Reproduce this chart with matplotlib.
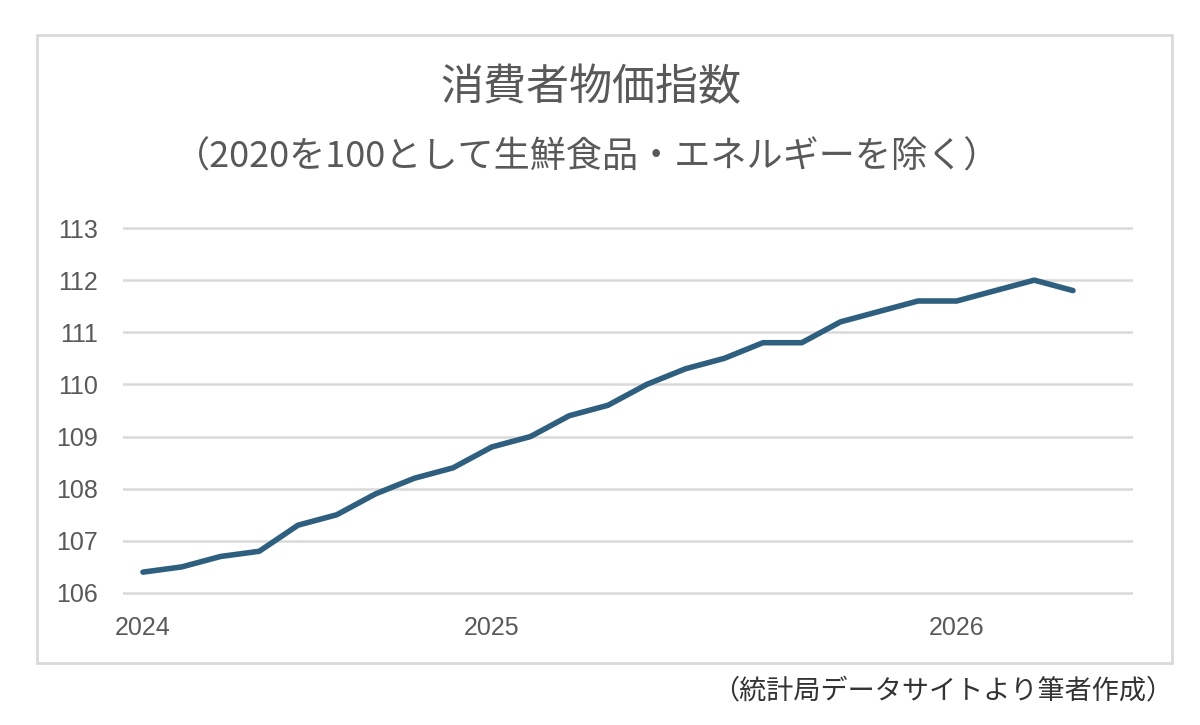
import matplotlib
matplotlib.use("Agg")
import matplotlib.pyplot as plt
from matplotlib.patches import Rectangle

plt.rcParams['font.family'] = ['Noto Sans CJK JP', 'DejaVu Sans']

# monthly core CPI (2020 = 100), Apr 2024 - Apr 2026
months = ["2024-04", "2024-05", "2024-06", "2024-07", "2024-08", "2024-09",
          "2024-10", "2024-11", "2024-12", "2025-01", "2025-02", "2025-03",
          "2025-04", "2025-05", "2025-06", "2025-07", "2025-08", "2025-09",
          "2025-10", "2025-11", "2025-12", "2026-01", "2026-02", "2026-03",
          "2026-04"]
cpi = [106.4, 106.5, 106.7, 106.8, 107.3, 107.5, 107.9, 108.2, 108.4,
       108.8, 109.0, 109.4, 109.6, 110.0, 110.3, 110.5, 110.8, 110.8,
       111.2, 111.4, 111.6, 111.6, 111.8, 112.0, 111.8]
year_ticks = ["2024-04", "2025-01", "2026-01"]
year_labels = ["2024", "2025", "2026"]
y_ticks = [106, 107, 108, 109, 110, 111, 112, 113]

text_gray = "#595959"
line_color = "#2f5f7e"

fig = plt.figure(figsize=(12, 7.25), dpi=100)
fig.patch.set_facecolor("white")

# outer chart frame
fig.patches.append(Rectangle((0.0308, 0.0855), 0.946, 0.866, transform=fig.transFigure,
                             fill=False, edgecolor="#d9d9d9", linewidth=2))

ax = fig.add_axes([0.1025, 0.1785, 0.8417, 0.5106])
x = list(range(len(months)))
ax.plot(x, cpi, color=line_color, linewidth=4, solid_capstyle="round",
        solid_joinstyle="round", zorder=3)

ax.set_xlim(-0.516, 25.55)
ax.set_ylim(105.95, 113.05)
ax.set_yticks(y_ticks)
ax.set_yticklabels([str(v) for v in y_ticks])
ax.set_xticks([months.index(m) for m in year_ticks])
ax.set_xticklabels(year_labels)
for lab in ax.get_xticklabels() + ax.get_yticklabels():
    lab.set_fontfamily("Liberation Sans")

ax.grid(axis="y", color="#d9d9d9", linewidth=1.8)
ax.set_axisbelow(True)
for s in ax.spines.values():
    s.set_visible(False)
ax.tick_params(axis="both", length=0, labelsize=18, labelcolor=text_gray)
ax.tick_params(axis="y", pad=18)
ax.tick_params(axis="x", pad=15)

fig.text(0.492, 0.879, "消費者物価指数", ha="center", va="center",
         fontsize=31, color=text_gray)
fig.text(0.489, 0.783, "（2020を100として生鮮食品・エネルギーを除く）", ha="center",
         va="center", fontsize=26, color=text_gray)
fig.text(0.978, 0.0455, "（統計局データサイトより筆者作成）", ha="right", va="center",
         fontsize=19.5, color="#333333")

fig.savefig("out.png", dpi=100)
